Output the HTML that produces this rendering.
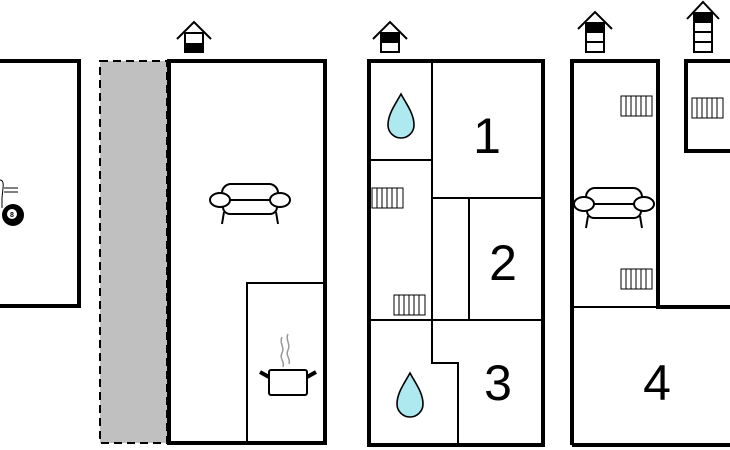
<!DOCTYPE html>
<html><head><meta charset="utf-8"><style>html,body{margin:0;padding:0;background:#fff;}svg{display:block}</style></head>
<body>
<svg width="730" height="450" viewBox="0 0 730 450" xmlns="http://www.w3.org/2000/svg">
<defs>
<g id="sofa" fill="#fff" stroke="#000" stroke-width="2">
  <path d="M-26,12 L-28,24 M26,12 L28,24"/>
  <rect x="-28" y="-16" width="56" height="18" rx="9"/>
  <rect x="-27" y="0" width="54" height="14" rx="7"/>
  <ellipse cx="-30" cy="0" rx="10" ry="7"/>
  <ellipse cx="30" cy="0" rx="10" ry="7"/>
</g>
<g id="rad" fill="#fff" stroke="#000" stroke-width="1">
  <rect x="0" y="0" width="31" height="20"/>
  <path d="M5,0V20M10,0V20M15,0V20M20,0V20M25,0V20"/>
</g>
<g id="drop"><path d="M0,-23 C6,-12 13,-3 13,8 A13,13 0 0 1 -13,8 C-13,-3 -6,-12 0,-23Z" fill="#aee9ef" stroke="#000" stroke-width="1.6"/></g>
</defs>

<path d="M-5,61 H79 V306 H-5" fill="none" stroke="#000" stroke-width="4"/>
<g stroke="#000" fill="#fff" stroke-width="1">
  <path d="M0,180 q4,0 3,8 l-1,10 0,10" fill="none"/>
  <path d="M4,188 H18 M4,192 H18"/>
</g>
<circle cx="13" cy="215" r="11" fill="#000"/>
<circle cx="12" cy="214" r="5" fill="#fff"/>
<text x="12" y="217" font-family="Liberation Sans,sans-serif" font-size="7" font-weight="bold" text-anchor="middle">8</text>

<rect x="100" y="61" width="67" height="382" fill="#c0c0c0" stroke="#000" stroke-width="2" stroke-dasharray="8,5"/>

<rect x="169" y="61" width="156" height="382" fill="#fff" stroke="#000" stroke-width="4"/>
<path d="M247,443 V283 H325" fill="none" stroke="#000" stroke-width="2"/>
<use href="#sofa" x="250" y="200"/>
<g transform="translate(288,382)">
  <path d="M-6,-45 c-3,6 3,10 0,16 c-3,6 3,8 1,14 M0,-48 c-3,6 3,10 0,16 c-3,6 3,8 1,14" fill="none" stroke="#999" stroke-width="1.5"/>
  <rect x="-19" y="-12" width="38" height="25" rx="2" fill="#fff" stroke="#000" stroke-width="2"/>
  <path d="M-19,-5 L-28,-10 M19,-5 L28,-10" stroke="#000" stroke-width="4"/>
</g>
<g transform="translate(194,0)" stroke="#000" stroke-width="2" fill="#fff">
  <path d="M-17,39 L0,22 L17,39" fill="none"/>
  <rect x="-9" y="33" width="18" height="19"/>
  <rect x="-9" y="44" width="18" height="8" fill="#000"/>
</g>

<rect x="369" y="61" width="174" height="384" fill="#fff" stroke="#000" stroke-width="4"/>
<g stroke="#000" stroke-width="2" fill="none">
  <path d="M432,61 V320 M369,160 H432 M432,198 H543 M469,198 V320 M369,320 H543"/>
  <path d="M432,320 V363 H458 V445"/>
</g>
<use href="#drop" x="401" y="117"/>
<use href="#drop" x="410" y="396"/>
<use href="#rad" x="372" y="188"/>
<use href="#rad" x="394" y="295"/>
<g font-family="Liberation Sans,sans-serif" font-size="50" text-anchor="middle" fill="#000">
  <text x="487" y="153">1</text>
  <text x="503" y="280">2</text>
  <text x="498" y="400">3</text>
  <text x="657" y="400">4</text>
</g>
<g transform="translate(390,0)" stroke="#000" stroke-width="2" fill="#fff">
  <path d="M-17,39 L0,22 L17,39" fill="none"/>
  <rect x="-9" y="33" width="18" height="19"/>
  <rect x="-9" y="33" width="18" height="9" fill="#000"/>
</g>

<path d="M572,445 V61 H658 V307 H732" fill="none" stroke="#000" stroke-width="4"/>
<path d="M572,445 H732" fill="none" stroke="#000" stroke-width="4"/>
<path d="M572,307 H658" stroke="#000" stroke-width="2"/>
<rect x="686" y="61" width="50" height="90" fill="#fff" stroke="#000" stroke-width="4"/>
<use href="#sofa" x="614" y="204"/>
<use href="#rad" x="621" y="96"/>
<use href="#rad" x="621" y="269"/>
<use href="#rad" x="692" y="98"/>
<g transform="translate(595,0)" stroke="#000" stroke-width="2" fill="#fff">
  <path d="M-17,29 L0,12 L17,29" fill="none"/>
  <rect x="-9" y="23" width="18" height="29"/>
  <rect x="-9" y="23" width="18" height="9" fill="#000"/>
  <path d="M-9,42 H9"/>
</g>
<g transform="translate(703,0)" stroke="#000" stroke-width="2" fill="#fff">
  <path d="M-16,19 L0,2 L16,19" fill="none"/>
  <rect x="-9" y="13" width="18" height="39"/>
  <rect x="-9" y="13" width="18" height="9" fill="#000"/>
  <path d="M-9,32 H9 M-9,42 H9"/>
</g>
</svg>
</body></html>
